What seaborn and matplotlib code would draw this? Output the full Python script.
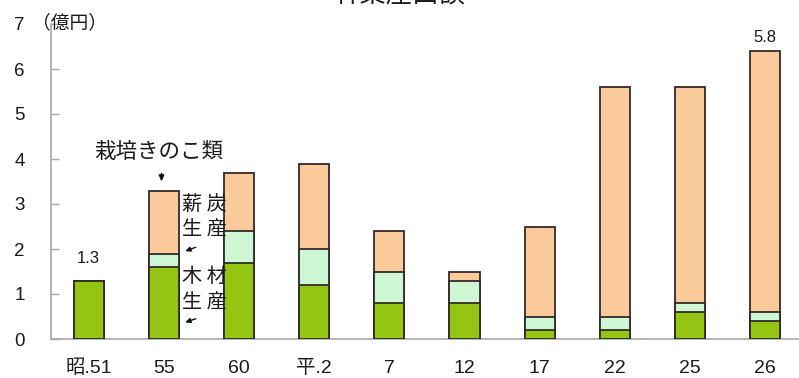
import matplotlib
matplotlib.use("Agg")
import matplotlib.pyplot as plt
import seaborn as sns
import pandas as pd
import numpy as np

# 林業産出額 (億円) by year
years = ["昭.51", "55", "60", "平.2", "7", "12", "17", "22", "25", "26"]
timber = [1.3, 1.6, 1.7, 1.2, 0.8, 0.8, 0.2, 0.2, 0.6, 0.4]        # 木材生産
charcoal = [0.0, 0.3, 0.7, 0.8, 0.7, 0.5, 0.3, 0.3, 0.2, 0.2]      # 薪炭生産
mushroom = [0.0, 1.4, 1.3, 1.9, 0.9, 0.2, 2.0, 5.1, 4.8, 5.8]      # 栽培きのこ類
value_labels = {"昭.51": "1.3", "26": "5.8"}
y_ticks = [0, 1, 2, 3, 4, 5, 6, 7]

sns.set_theme(style="white")
plt.rcParams["font.family"] = ["Liberation Sans", "Noto Sans CJK JP"]

df = pd.DataFrame({"year": years, "timber": timber,
                   "charcoal": charcoal, "mushroom": mushroom})
df["lvl1"] = df["timber"]
df["lvl2"] = df["timber"] + df["charcoal"]
df["lvl3"] = df["lvl2"] + df["mushroom"]

fig = plt.figure(figsize=(7.99, 3.78), dpi=100)
ax = fig.add_axes([51 / 799, 1 - 339 / 378, 748 / 799, 315 / 378])

edge = "#332a2a"
layers = [("lvl3", "#fbca9a"), ("lvl2", "#cdf6d2"), ("lvl1", "#93c512")]
for col, color in layers:
    sns.barplot(data=df, x="year", y=col, order=years, color=color,
                width=0.4, edgecolor=edge, linewidth=1.3, saturation=1,
                ax=ax, zorder=3)

ax.set_xlim(-0.5, 9.45)
ax.set_ylim(0, 7)
ax.set_yticks(y_ticks)
ax.set_xlabel("")
ax.set_ylabel("")

for s in ["top", "right"]:
    ax.spines[s].set_visible(False)
for s in ["left", "bottom"]:
    ax.spines[s].set_color("#a8a8a8")
    ax.spines[s].set_linewidth(1.2)

ax.tick_params(axis="y", direction="in", length=6, width=1, color="#a8a8a8",
               pad=19, labelsize=13.5, labelcolor="#1a1a1a", left=True)
ax.tick_params(axis="x", length=0, pad=15, labelsize=14, labelcolor="#1a1a1a")

# value labels above bars
for i, yr in enumerate(years):
    if yr in value_labels:
        top = df.loc[i, "lvl3"]
        off = 0.48 if yr == "昭.51" else 0.3
        ax.text(i, top + off, value_labels[yr], ha="center", va="center",
                fontsize=12, color="#1a1a1a")

cjk = ["Noto Sans CJK JP"]

# unit
ax.text(-0.026, 1.005, "（億円）", transform=ax.transAxes, ha="left", va="center",
        fontsize=13.5, family=cjk, color="#1a1a1a")

# title
fig.text(0.5, 1 - 8 / 378, "林業産出額", ha="center", va="bottom",
         fontsize=19, family=cjk, color="#1a1a1a")

ax.text(0.93, 4.16, "栽培きのこ類", ha="center", va="center", fontsize=15.5,
        family=cjk, color="#1a1a1a")
ax.annotate("", xy=(0.97, 3.44), xytext=(0.97, 3.74),
            arrowprops=dict(arrowstyle="-|>,head_width=0.13,head_length=0.28",
                            color="#111111", lw=1.1))

for ypos, txt in [(2.98, "薪 炭"), (2.42, "生 産"), (1.38, "木 材"), (0.8, "生 産")]:
    ax.text(1.54, ypos, txt, ha="center", va="center", fontsize=14.5,
            family=cjk, color="#1a1a1a")
for y0, y1 in [(2.06, 1.93), (0.47, 0.35)]:
    ax.annotate("", xy=(1.25, y1), xytext=(1.46, y0),
                arrowprops=dict(arrowstyle="-|>,head_width=0.12,head_length=0.25",
                                color="#111111", lw=1))

fig.savefig("out.png", dpi=100)
